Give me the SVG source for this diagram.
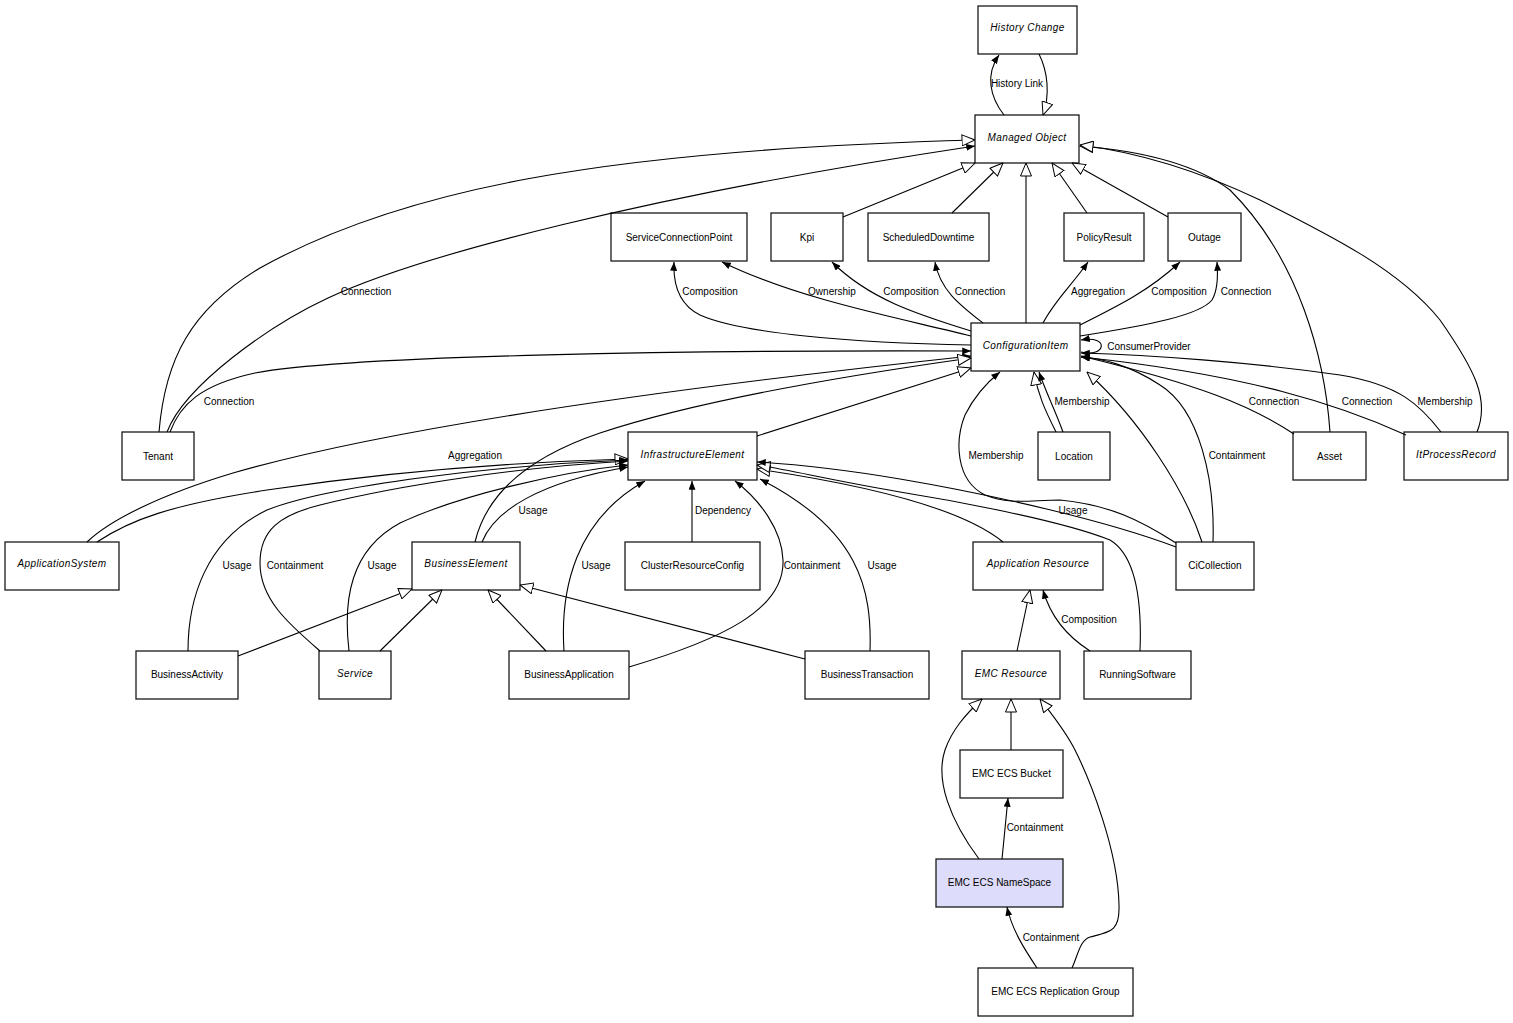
<svg xmlns="http://www.w3.org/2000/svg" width="1513" height="1023" viewBox="0 0 1513 1023">
<style>
.n rect{fill:#fff;stroke:#1a1a1a;stroke-width:1.3}
.n text{font-family:"Liberation Sans",Arial,sans-serif;font-size:10px;text-anchor:middle;fill:#000}
.n text.i{font-style:italic;letter-spacing:0.4px}
.e path{fill:none;stroke:#000;stroke-width:1.1}
.e path.g{marker-end:url(#h)}
.e path.a{marker-end:url(#f)}
.l text{font-family:"Liberation Sans",Arial,sans-serif;font-size:10px;text-anchor:middle;fill:#000}
</style>
<defs>
<marker id="f" viewBox="0 0 10 8" refX="10" refY="4" markerWidth="9" markerHeight="7" markerUnits="userSpaceOnUse" orient="auto"><path d="M0,0 L10,4 L0,8 z" fill="#000"/></marker>
<marker id="h" viewBox="0 0 14 12" refX="13.5" refY="6" markerWidth="14" markerHeight="12" markerUnits="userSpaceOnUse" orient="auto"><path d="M0.5,0.5 L13.5,6 L0.5,11.5 z" fill="#fff" stroke="#000" stroke-width="1"/></marker>
</defs>
<rect width="1513" height="1023" fill="#fff"/>

<g id="nodes">
<g id="n-history-change" class="n"><rect x="978" y="6" width="99" height="48"/><text class="i" x="1027.5" y="31">History Change</text></g>
<g id="n-managed-object" class="n"><rect x="975" y="115" width="104" height="48"/><text class="i" x="1027" y="140.5">Managed Object</text></g>
<g id="n-scp" class="n"><rect x="611" y="213" width="136" height="48"/><text x="679" y="240.5">ServiceConnectionPoint</text></g>
<g id="n-kpi" class="n"><rect x="771" y="213" width="72" height="48"/><text x="807" y="240.5">Kpi</text></g>
<g id="n-scheduled-downtime" class="n"><rect x="868" y="213" width="121" height="48"/><text x="928.5" y="240.5">ScheduledDowntime</text></g>
<g id="n-policy-result" class="n"><rect x="1064" y="213" width="80" height="48"/><text x="1104" y="240.5">PolicyResult</text></g>
<g id="n-outage" class="n"><rect x="1168" y="213" width="73" height="48"/><text x="1204.5" y="240.5">Outage</text></g>
<g id="n-configuration-item" class="n"><rect x="971" y="323" width="109" height="48"/><text class="i" x="1025.5" y="348.5">ConfigurationItem</text></g>
<g id="n-tenant" class="n"><rect x="122" y="432" width="72" height="48"/><text x="158" y="459.5">Tenant</text></g>
<g id="n-infrastructure-element" class="n"><rect x="628" y="432" width="129" height="48"/><text class="i" x="692.5" y="457.5">InfrastructureElement</text></g>
<g id="n-location" class="n"><rect x="1038" y="432" width="72" height="48"/><text x="1074" y="459.5">Location</text></g>
<g id="n-asset" class="n"><rect x="1293" y="432" width="73" height="48"/><text x="1329.5" y="459.5">Asset</text></g>
<g id="n-it-process-record" class="n"><rect x="1404" y="432" width="104" height="48"/><text class="i" x="1456" y="457.5">ItProcessRecord</text></g>
<g id="n-application-system" class="n"><rect x="5" y="542" width="114" height="48"/><text class="i" x="62" y="567">ApplicationSystem</text></g>
<g id="n-business-element" class="n"><rect x="412" y="542" width="108" height="48"/><text class="i" x="466" y="566.5">BusinessElement</text></g>
<g id="n-cluster-resource-config" class="n"><rect x="625" y="542" width="135" height="48"/><text x="692.5" y="569">ClusterResourceConfig</text></g>
<g id="n-application-resource" class="n"><rect x="973" y="542" width="130" height="48"/><text class="i" x="1038" y="566.5">Application Resource</text></g>
<g id="n-ci-collection" class="n"><rect x="1176" y="542" width="78" height="48"/><text x="1215" y="569">CiCollection</text></g>
<g id="n-business-activity" class="n"><rect x="136" y="651" width="102" height="48"/><text x="187" y="678">BusinessActivity</text></g>
<g id="n-service" class="n"><rect x="319" y="651" width="72" height="48"/><text class="i" x="355" y="676.5">Service</text></g>
<g id="n-business-application" class="n"><rect x="509" y="651" width="120" height="48"/><text x="569" y="678">BusinessApplication</text></g>
<g id="n-business-transaction" class="n"><rect x="805" y="651" width="124" height="48"/><text x="867" y="678">BusinessTransaction</text></g>
<g id="n-emc-resource" class="n"><rect x="962" y="651" width="98" height="48"/><text class="i" x="1011" y="676.5">EMC Resource</text></g>
<g id="n-running-software" class="n"><rect x="1084" y="651" width="107" height="48"/><text x="1137.5" y="678">RunningSoftware</text></g>
<g id="n-emc-ecs-bucket" class="n"><rect x="960" y="750" width="103" height="48"/><text x="1011.5" y="777">EMC ECS Bucket</text></g>
<g id="n-emc-ecs-namespace" class="n"><rect x="936" y="859" width="127" height="48" style="fill:#dddcfa"/><text x="999.5" y="886">EMC ECS NameSpace</text></g>
<g id="n-emc-ecs-replication-group" class="n"><rect x="978" y="968" width="155" height="48"/><text x="1055.5" y="995">EMC ECS Replication Group</text></g>
</g>

<g id="connectors" class="e">
<path class="a" d="M1004,115 C990,97 985,75 999,55"/>
<path class="g" d="M1039,54 C1048,72 1050,95 1043,115"/>
<path class="g" d="M159,432 C165,360 190,310 260,268 C400,190 600,150 975,140"/>
<path class="a" d="M167,432 C185,385 270,325 328,298 C420,255 650,195 975,146"/>
<path class="a" d="M170,432 C180,405 200,385 255,373 C350,355 700,350 971,351"/>
<path class="a" d="M87,542 C110,520 160,495 233,473 C400,425 700,385 971,356"/>
<path class="g" d="M97,542 C130,520 170,505 267,490 C400,470 520,462 628,459"/>
<path class="a" d="M188,651 C188,600 205,540 267,510 C330,485 500,465 628,460"/>
<path class="a" d="M320,651 C290,625 260,600 260,563 C260,530 280,515 320,505 C400,485 520,467 628,461"/>
<path class="a" d="M349,651 C343,600 350,550 400,523 C460,495 560,472 628,465"/>
<path class="a" d="M482,542 C495,510 540,482 628,467"/>
<path class="g" d="M475,542 C485,500 520,460 600,433 C700,400 850,375 971,358"/>
<path class="g" d="M757,436 L971,368"/>
<path class="g" d="M238,656 L412,589"/>
<path class="g" d="M380,651 L442,590"/>
<path class="g" d="M546,651 L488,590"/>
<path class="g" d="M805,659 L520,585"/>
<path class="a" d="M564,651 C560,590 575,520 645,481"/>
<path class="a" d="M629,667 C720,640 785,610 783,560 C782,530 760,500 735,481"/>
<path class="a" d="M692,542 L692,481"/>
<path class="a" d="M870,651 C872,590 860,530 760,479"/>
<path class="g" d="M1003,542 C970,515 900,490 757,469"/>
<path class="g" d="M1140,651 C1142,600 1135,555 1110,540 C1060,520 950,500 900,492 C830,480 790,470 757,465"/>
<path class="a" d="M1176,547 C1110,522 1000,496 900,479 C840,469 790,464 757,462"/>
<path class="a" d="M1176,543 C1140,520 1110,505 1060,500 C1030,500 1010,505 985,495 C955,480 955,440 965,415 C975,395 990,380 1000,372"/>
<path class="a" d="M1213,542 C1215,480 1200,410 1160,385 C1130,365 1100,358 1081,357"/>
<path class="g" d="M1202,542 C1185,490 1140,420 1087,372"/>
<path class="g" d="M1056,432 C1045,410 1038,395 1034,372"/>
<path class="a" d="M1063,432 C1055,410 1045,390 1039,372"/>
<path class="a" d="M1294,434 C1250,405 1200,385 1081,356"/>
<path class="a" d="M1406,435 C1340,405 1250,375 1081,357"/>
<path class="a" d="M1441,432 C1420,405 1400,385 1340,375 C1250,362 1150,355 1081,353"/>
<path class="g" d="M1330,432 C1325,360 1300,260 1230,190 C1190,160 1130,150 1080,146"/>
<path class="g" d="M1477,432 C1490,400 1475,370 1440,320 C1400,270 1330,235 1260,200 C1180,162 1120,150 1080,145"/>
<path class="g" d="M843,217 L975,163"/>
<path class="g" d="M952,213 L1003,163"/>
<path class="g" d="M1026,323 L1026,163"/>
<path class="g" d="M1087,213 L1052,163"/>
<path class="g" d="M1168,217 L1072,163"/>
<path class="a" d="M971,345 C850,343 740,333 700,315 C680,305 673,285 674,262"/>
<path class="a" d="M971,336 C900,318 800,300 722,262"/>
<path class="a" d="M971,331 C920,315 870,300 832,262"/>
<path class="a" d="M983,323 C960,305 940,290 935,262"/>
<path class="a" d="M1043,323 C1055,300 1072,285 1088,262"/>
<path class="a" d="M1080,325 C1120,305 1150,290 1180,262"/>
<path class="a" d="M1080,336 C1150,325 1200,315 1212,300 C1218,290 1218,275 1217,262"/>
<path class="a" d="M1081,352 C1106,358 1110,335 1081,340"/>
<path class="g" d="M1017,651 L1030,590"/>
<path class="a" d="M1090,651 C1065,635 1050,615 1043,590"/>
<path class="g" d="M1011,750 L1011,699"/>
<path class="g" d="M979,859 C950,820 935,780 945,750 C952,730 965,715 982,699"/>
<path class="a" d="M1002,859 L1008,798"/>
<path class="a" d="M1037,968 C1025,950 1012,930 1007,907"/>
<path class="g" d="M1072,968 C1078,955 1080,940 1090,937 C1110,932 1120,932 1119,905 C1118,850 1090,780 1075,750 C1065,730 1050,712 1040,699"/>
</g>

<g id="labels" class="l">
<text x="1017" y="86.5">History Link</text>
<text x="366" y="295">Connection</text>
<text x="710" y="295">Composition</text>
<text x="832" y="295">Ownership</text>
<text x="911" y="295">Composition</text>
<text x="980" y="295">Connection</text>
<text x="1098" y="295">Aggregation</text>
<text x="1179" y="295">Composition</text>
<text x="1246" y="295">Connection</text>
<text x="1149" y="349.5">ConsumerProvider</text>
<text x="229" y="405">Connection</text>
<text x="1082" y="405">Membership</text>
<text x="1274" y="405">Connection</text>
<text x="1367" y="405">Connection</text>
<text x="1445" y="405">Membership</text>
<text x="475" y="459">Aggregation</text>
<text x="996" y="459">Membership</text>
<text x="1237" y="459">Containment</text>
<text x="533" y="514">Usage</text>
<text x="723" y="514">Dependency</text>
<text x="1073" y="514">Usage</text>
<text x="237" y="569">Usage</text>
<text x="295" y="569">Containment</text>
<text x="382" y="569">Usage</text>
<text x="596" y="569">Usage</text>
<text x="812" y="569">Containment</text>
<text x="882" y="569">Usage</text>
<text x="1089" y="623">Composition</text>
<text x="1035" y="831">Containment</text>
<text x="1051" y="941">Containment</text>
</g>
</svg>
